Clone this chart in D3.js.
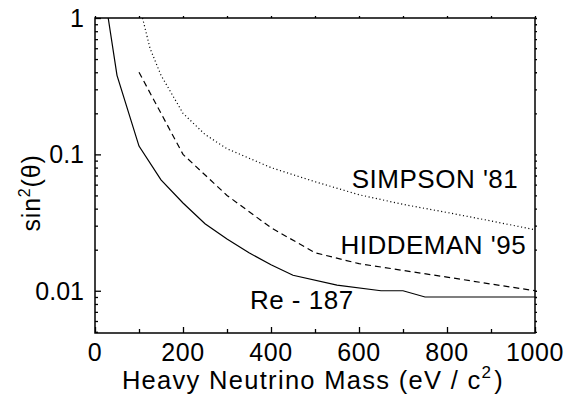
<!doctype html>
<html lang="en">
<head>
<meta charset="UTF-8">
<script src="https://d3js.org/d3.v7.min.js"></script>
<style>
body { margin: 0; background: #fff; }
svg { font-family: "Liberation Sans", Arial, sans-serif; }
.frame { fill: none; stroke: #000; stroke-width: 1.5px; }
.tick line { stroke: #000; stroke-width: 1.3px; }
.curve { fill: none; stroke: #000; stroke-width: 1.2px; }
</style>
</head>
<body>
<div id="chart"></div>
<script>
// Re-187 limit (solid)
var massRe = [30, 50, 100, 150, 200, 250, 300, 350, 400, 450, 550, 650, 700, 750, 1000];
var sinRe  = [1.0, 0.38, 0.115, 0.065, 0.044, 0.031, 0.024, 0.019, 0.0155, 0.013, 0.011, 0.010, 0.010, 0.009, 0.009];

// Hiddeman '95 (dashed)
var massHid = [100, 200, 300, 400, 500, 600, 700, 800, 900, 1000];
var sinHid  = [0.40, 0.10, 0.050, 0.029, 0.019, 0.0158, 0.0141, 0.0126, 0.0112, 0.0100];

// Simpson '81 (dotted)
var massSim = [108, 125, 150, 200, 250, 300, 400, 500, 600, 700, 800, 900, 1000];
var sinSim  = [1.0, 0.6, 0.38, 0.2, 0.14, 0.11, 0.08, 0.063, 0.0506, 0.043, 0.0375, 0.0325, 0.028];

var xMajor = [0, 200, 400, 600, 800, 1000];
var xMinor = [100, 300, 500, 700, 900];
var yMajor = [0.01, 0.1, 1];
var yLabels = ["0.01", "0.1", "1"];

var W = 578, H = 396;
var m = {left: 95, right: 43, top: 18, bottom: 63};
var w = W - m.left - m.right, h = H - m.top - m.bottom;

var x = d3.scaleLinear().domain([0, 1000]).range([0, w]);
var y = d3.scaleLog().domain([0.0049, 1]).range([h, 0]);

var svg = d3.select("#chart").append("svg")
  .attr("width", W).attr("height", H);
var g = svg.append("g").attr("transform", "translate(" + m.left + "," + m.top + ")");

g.append("clipPath").attr("id", "clip")
  .append("rect").attr("width", w).attr("height", h);

// minor y ticks: 2..9 in each decade
var yMinor = [];
[0.001, 0.01, 0.1].forEach(function(d) {
  for (var k = 2; k <= 9; k++) {
    var v = d * k;
    if (v > 0.0049 && v < 1) yMinor.push(v);
  }
});

function noDomain(s) { s.select(".domain").remove(); }

// bottom axis (inward ticks)
g.append("g").attr("class", "tick")
  .attr("transform", "translate(0," + h + ")")
  .call(d3.axisBottom(x).tickValues(xMajor).tickSize(-6).tickFormat(""))
  .call(noDomain);
g.append("g").attr("class", "tick")
  .attr("transform", "translate(0," + h + ")")
  .call(d3.axisBottom(x).tickValues(xMinor).tickSize(-4).tickFormat(""))
  .call(noDomain);

// top axis (small outward ticks)
g.append("g").attr("class", "tick")
  .call(d3.axisTop(x).tickValues(xMajor.concat(xMinor)).tickSize(2).tickFormat(""))
  .call(noDomain);

// left axis (inward ticks)
g.append("g").attr("class", "tick")
  .call(d3.axisLeft(y).tickValues(yMajor).tickSize(-6).tickFormat(""))
  .call(noDomain);
g.append("g").attr("class", "tick")
  .call(d3.axisLeft(y).tickValues(yMinor).tickSize(-3).tickFormat(""))
  .call(noDomain);

// right axis (small outward ticks)
g.append("g").attr("class", "tick")
  .attr("transform", "translate(" + w + ",0)")
  .call(d3.axisRight(y).tickValues(yMajor.concat(yMinor)).tickSize(2).tickFormat(""))
  .call(noDomain);

g.selectAll(".tick text").remove();

// tick labels
g.selectAll(".xlab").data(xMajor).enter().append("text")
  .attr("x", function(d) { return x(d); })
  .attr("y", h + 28)
  .attr("text-anchor", "middle")
  .style("font-size", "25px")
  .style("letter-spacing", "0.6px")
  .text(function(d) { return d; });

g.selectAll(".ylab").data(yMajor).enter().append("text")
  .attr("x", -11)
  .attr("y", function(d) { return y(d); })
  .attr("dy", "0.35em")
  .attr("text-anchor", "end")
  .style("font-size", "25px")
  .text(function(d, i) { return yLabels[i]; });

// frame
g.append("rect").attr("class", "frame").attr("width", w).attr("height", h);

// curves
var line = d3.line()
  .x(function(d) { return x(d[0]); })
  .y(function(d) { return y(d[1]); });

var curves = g.append("g").attr("clip-path", "url(#clip)");
curves.append("path").attr("class", "curve")
  .attr("d", line(d3.zip(massRe, sinRe)));
curves.append("path").attr("class", "curve")
  .attr("stroke-dasharray", "6,4")
  .attr("d", line(d3.zip(massHid, sinHid)));
curves.append("path").attr("class", "curve")
  .attr("stroke-dasharray", "1.1,2.6")
  .attr("d", line(d3.zip(massSim, sinSim)));

// annotations
var ann = g.append("g").style("font-size", "26px").style("letter-spacing", "0.5px");
ann.append("text").attr("x", x(962)).attr("y", y(0.057))
  .attr("text-anchor", "end").text("SIMPSON '81");
ann.append("text").attr("x", x(980)).attr("y", y(0.0186))
  .attr("text-anchor", "end").text("HIDDEMAN '95");
ann.append("text").attr("x", x(352)).attr("y", y(0.0073))
  .attr("text-anchor", "start").text("Re - 187");

// axis titles
var xt = svg.append("text")
  .attr("x", m.left + w / 2 - 2).attr("y", 389)
  .attr("text-anchor", "middle")
  .style("font-size", "25.5px")
  .style("letter-spacing", "1.3px");
xt.append("tspan").text("Heavy Neutrino Mass (eV / c");
xt.append("tspan").attr("dy", -11).style("font-size", "17px").text("2");
xt.append("tspan").attr("dy", 11).attr("dx", 2).text(")");

var yt = svg.append("text")
  .attr("transform", "translate(40,193) rotate(-90)")
  .attr("text-anchor", "middle")
  .style("font-size", "25px")
  .style("letter-spacing", "0.8px");
yt.append("tspan").text("sin");
yt.append("tspan").attr("dy", -10).style("font-size", "16px").text("2");
yt.append("tspan").attr("dy", 10).text("(\u03b8)");
</script>
</body>
</html>
